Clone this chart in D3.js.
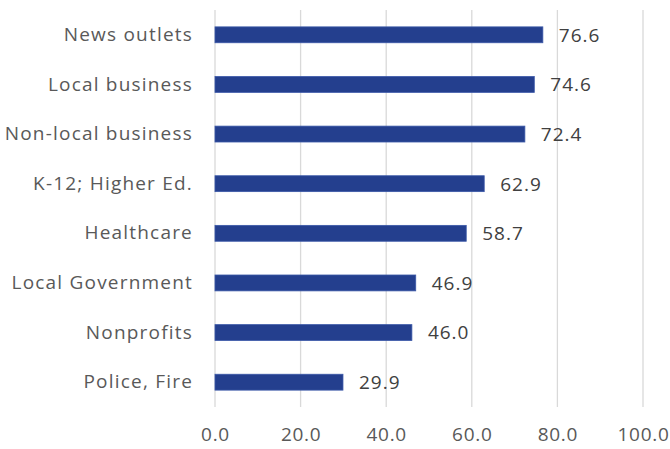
<!DOCTYPE html>
<html>
<head>
<meta charset="utf-8">
<script src="https://cdn.jsdelivr.net/npm/d3@7"></script>
<style>
  html, body { margin: 0; padding: 0; background: #fff; }
  svg { display: block; }
  text { font-family: "Open Sans", "Liberation Sans", sans-serif; }
</style>
</head>
<body>
<svg id="chart" width="670" height="449"></svg>
<script>
const categories = ["News outlets", "Local business", "Non-local business", "K-12; Higher Ed.",
                    "Healthcare", "Local Government", "Nonprofits", "Police, Fire"];
const values = [76.6, 74.6, 72.4, 62.9, 58.7, 46.9, 46.0, 29.9];
const ticks = [0, 20, 40, 60, 80, 100];

const svg = d3.select("#chart");
const margin = { top: 10, right: 27, bottom: 42, left: 215 };
const width = 670 - margin.left - margin.right;
const height = 449 - margin.top - margin.bottom;

const g = svg.append("g").attr("transform", `translate(${margin.left},${margin.top})`);

const x = d3.scaleLinear().domain([0, 100]).range([0, width]);
const y = d3.scaleBand().domain(categories).range([0, height]).paddingInner(0.68).paddingOuter(0.34);

// vertical gridlines
g.selectAll("line.grid")
  .data(ticks)
  .join("line")
  .attr("class", "grid")
  .attr("x1", d => x(d)).attr("x2", d => x(d))
  .attr("y1", 0).attr("y2", height)
  .attr("stroke", "#d9d9d9")
  .attr("stroke-width", 1.3);

// x-axis tick labels
const xAxis = d3.axisBottom(x).tickValues(ticks).tickFormat(d3.format(".1f")).tickSize(0).tickPadding(21);
const xa = g.append("g").attr("transform", `translate(0,${height})`).call(xAxis);
xa.select(".domain").remove();
xa.selectAll("text")
  .attr("fill", "#595959").attr("font-size", 19)
  .style("font-family", "'Open Sans', sans-serif")
  .style("letter-spacing", "0.7px");

// category labels
const yAxis = d3.axisLeft(y).tickSize(0).tickPadding(22);
const ya = g.append("g").call(yAxis);
ya.select(".domain").remove();
ya.selectAll("text")
  .attr("fill", "#595959").attr("font-size", 19)
  .style("font-family", "'Open Sans', sans-serif")
  .style("letter-spacing", "1.2px");

// bars
const data = categories.map((c, i) => ({ c, v: values[i] }));
g.selectAll("rect.bar")
  .data(data)
  .join("rect")
  .attr("class", "bar")
  .attr("x", x(0))
  .attr("y", d => y(d.c))
  .attr("width", d => x(d.v) - x(0))
  .attr("height", y.bandwidth())
  .attr("fill", "#243f8e")
  .attr("stroke", "#3b58a8")
  .attr("stroke-width", 0.8);

// value labels
g.selectAll("text.val")
  .data(data)
  .join("text")
  .attr("class", "val")
  .attr("x", d => x(d.v) + 16)
  .attr("y", d => y(d.c) + y.bandwidth() / 2)
  .attr("dy", "0.36em")
  .attr("fill", "#404040")
  .attr("font-size", 19)
  .style("letter-spacing", "1px")
  .text(d => d3.format(".1f")(d.v));
</script>
</body>
</html>
